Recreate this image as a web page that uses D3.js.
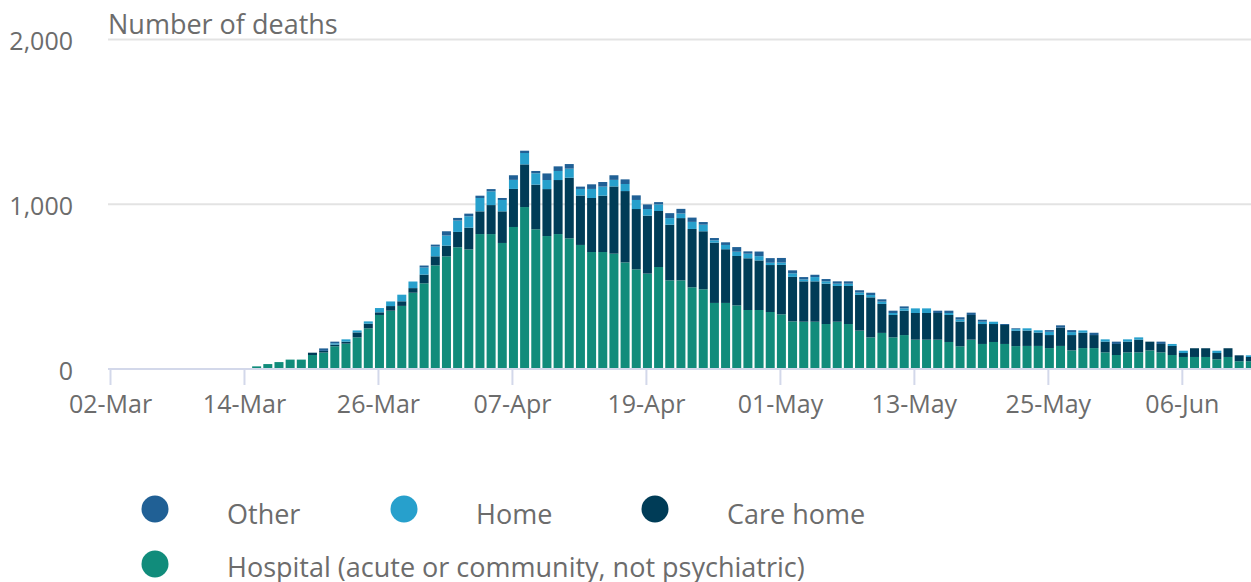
<!DOCTYPE html>
<html>
<head>
<meta charset="utf-8">
<script src="https://d3js.org/d3.v7.min.js"></script>
<style>
  html, body { margin: 0; padding: 0; background: #fff; }
  svg text { font-family: "Open Sans", sans-serif; font-stretch: 88%; }
</style>
</head>
<body>
<div id="chart"></div>
<script>
// Deaths by place of occurrence, daily, 15-Mar to 12-Jun
const startDate = '2020-03-15';
const hospital = [16, 30, 42, 57, 57, 85, 100, 138, 154, 192, 247, 328, 354, 383, 463, 520, 629, 684, 739, 726,
  819, 819, 765, 862, 983, 848, 807, 819, 793, 753, 710, 710, 700, 647, 605, 579, 619, 538, 538, 496,
  484, 401, 401, 386, 358, 358, 346, 332, 289, 287, 287, 273, 287, 273, 233, 192, 219, 192, 206, 178,
  178, 178, 164, 138, 178, 152, 164, 152, 139, 140, 140, 127, 140, 113, 127, 127, 101, 85, 101, 101,
  113, 101, 85, 73, 73, 73, 59, 73, 47, 47];
const careHome = [0, 0, 0, 0, 0, 14, 10, 10, 12, 30, 28, 16, 28, 28, 28, 53, 55, 65, 93, 132,
  138, 176, 192, 231, 259, 271, 285, 328, 368, 300, 328, 342, 408, 433, 366, 352, 340, 338, 378, 354,
  352, 366, 326, 300, 314, 301, 285, 300, 270, 245, 245, 245, 217, 231, 217, 243, 176, 136, 148, 162,
  162, 162, 164, 150, 150, 121, 109, 115, 93, 93, 81, 79, 111, 93, 93, 79, 65, 67, 65, 77,
  53, 51, 55, 24, 53, 53, 38, 53, 36, 26];
const home = [0, 0, 0, 0, 0, 0, 0, 8, 14, 12, 14, 26, 28, 40, 40, 43, 59, 61, 69, 69,
  81, 83, 69, 55, 69, 69, 55, 55, 55, 40, 55, 55, 40, 43, 55, 40, 40, 40, 28, 43,
  40, 14, 26, 26, 28, 26, 14, 14, 22, 12, 26, 14, 14, 14, 14, 14, 14, 12, 14, 28,
  28, 0, 12, 12, 0, 14, 14, 0, 10, 14, 14, 20, 0, 18, 14, 0, 14, 0, 14, 14,
  0, 0, 12, 14, 0, 0, 14, 0, 0, 10];
const other = [0, 0, 0, 0, 0, 0, 15, 10, 0, 0, 0, 0, 0, 0, 0, 12, 12, 26, 16, 16,
  14, 14, 12, 28, 14, 14, 40, 28, 28, 14, 28, 28, 28, 28, 28, 28, 14, 30, 28, 26,
  16, 14, 16, 28, 14, 28, 28, 28, 18, 14, 14, 14, 14, 14, 14, 14, 14, 14, 12, 0,
  0, 14, 14, 14, 14, 12, 0, 6, 5, 0, 0, 10, 14, 12, 0, 14, 0, 14, 0, 0,
  0, 14, 0, 0, 0, 0, 0, 0, 0, 0];

const seriesKeys = ['hospital', 'careHome', 'home', 'other'];
const seriesLabels = {
  other: 'Other',
  home: 'Home',
  careHome: 'Care home',
  hospital: 'Hospital (acute or community, not psychiatric)'
};
const colors = {
  hospital: '#118c7b',
  careHome: '#003c57',
  home: '#27a0cc',
  other: '#206095'
};
const yTicks = [0, 1000, 2000];
const xTickDates = ['2020-03-02', '2020-03-14', '2020-03-26', '2020-04-07', '2020-04-19',
  '2020-05-01', '2020-05-13', '2020-05-25', '2020-06-06'];

const width = 1251;
const height = 582;
const margin = { left: 110, top: 39.5, bottom: 213 };
const dayPx = 11.165;

const parse = d3.timeParse('%Y-%m-%d');
const day0 = parse(startDate);
const rows = hospital.map((h, i) => ({
  date: d3.timeDay.offset(day0, i),
  hospital: h,
  careHome: careHome[i],
  home: home[i],
  other: other[i]
}));

const xStart = parse('2020-03-02');
const xEnd = parse('2020-06-12');
const x = d3.scaleTime()
  .domain([xStart, xEnd])
  .range([margin.left, margin.left + d3.timeDay.count(xStart, xEnd) * dayPx]);

const y = d3.scaleLinear()
  .domain([0, 2000])
  .range([height - margin.bottom, margin.top]);

const svg = d3.select('#chart')
  .append('svg')
  .attr('width', width)
  .attr('height', height);

const textColor = '#6c6c6c';

// gridlines
svg.append('g')
  .selectAll('line')
  .data(yTicks.filter(d => d > 0))
  .enter()
  .append('line')
  .attr('x1', 108)
  .attr('x2', width)
  .attr('y1', d => y(d))
  .attr('y2', d => y(d))
  .attr('stroke', '#e3e3e3')
  .attr('stroke-width', 2);

// y labels
svg.append('g')
  .selectAll('text')
  .data(yTicks)
  .enter()
  .append('text')
  .attr('x', 73)
  .attr('y', d => y(d) + 2)
  .attr('dy', '0.35em')
  .attr('text-anchor', 'end')
  .attr('fill', textColor)
  .attr('font-size', '25px')
  .text(d => d3.format(',')(d));

// title
svg.append('text')
  .attr('x', 108)
  .attr('y', 34)
  .attr('fill', textColor)
  .attr('font-size', '27px')
  .text('Number of deaths');

// stacked bars
const stacked = d3.stack().keys(seriesKeys)(rows);
const barW = 9;

svg.append('g')
  .selectAll('g')
  .data(stacked)
  .enter()
  .append('g')
  .attr('fill', d => colors[d.key])
  .selectAll('rect')
  .data(d => d)
  .enter()
  .append('rect')
  .attr('x', d => x(d.data.date) + 1.5 - barW / 2)
  .attr('y', d => y(d[1]))
  .attr('width', barW)
  .attr('height', d => y(d[0]) - y(d[1]));

// x axis
const xAxis = d3.axisBottom(x)
  .tickValues(xTickDates.map(parse))
  .tickFormat(d3.timeFormat('%d-%b'))
  .tickSize(16)
  .tickPadding(10);

const ax = svg.append('g')
  .attr('transform', `translate(0,${y(0)})`)
  .call(xAxis);

ax.select('.domain').remove();
ax.insert('line', ':first-child')
  .attr('x1', 108)
  .attr('x2', width)
  .attr('stroke', '#d3d8ea')
  .attr('stroke-width', 2);
ax.selectAll('.tick line')
  .attr('stroke', '#d3d8ea')
  .attr('stroke-width', 2);
ax.selectAll('.tick text')
  .attr('fill', textColor)
  .attr('font-size', '25px');
ax.attr('font-family', null);

// legend
const legendItems = [
  { key: 'other', cx: 155, cy: 509, tx: 227, ty: 524 },
  { key: 'home', cx: 404, cy: 509, tx: 476, ty: 524 },
  { key: 'careHome', cx: 655, cy: 509, tx: 727, ty: 524 },
  { key: 'hospital', cx: 155, cy: 564, tx: 227, ty: 577 }
];

const legend = svg.append('g');
legend.selectAll('circle')
  .data(legendItems)
  .enter()
  .append('circle')
  .attr('cx', d => d.cx)
  .attr('cy', d => d.cy)
  .attr('r', 13.5)
  .attr('fill', d => colors[d.key]);

legend.selectAll('text')
  .data(legendItems)
  .enter()
  .append('text')
  .attr('x', d => d.tx)
  .attr('y', d => d.ty)
  .attr('fill', textColor)
  .attr('font-size', '27px')
  .text(d => seriesLabels[d.key]);
</script>
</body>
</html>
